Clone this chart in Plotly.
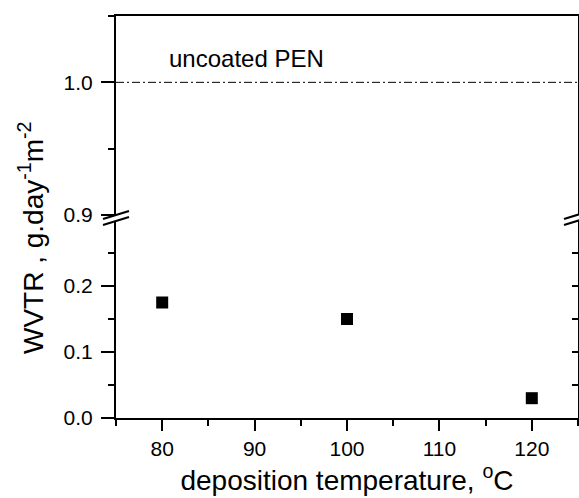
import plotly.graph_objects as go

# data
temperature = [80, 100, 120]
wvtr = [0.175, 0.15, 0.03]
uncoated_pen = 1.0
x_ticks = [80, 90, 100, 110, 120]
low_ticks = [0.0, 0.1, 0.2]
high_ticks = [0.9, 1.0]

W, H = 579, 498
ML, MR, MT, MB = 116, 1, 16, 80
PW, PH = W - ML - MR, H - MT - MB

def py(pix):  # pixel y (from top) -> paper y
    return (H - MB - pix) / PH

def px(pix):  # pixel x -> paper x
    return (pix - ML) / PW

low_dom = [0, py(220)]
high_dom = [py(215), 1]

font = "Liberation Sans, Arial, sans-serif"
black = "#000000"

fig = go.Figure()
fig.add_trace(go.Scatter(x=temperature, y=wvtr, mode="markers",
                         marker=dict(symbol="square", size=12, color=black),
                         xaxis="x", yaxis="y", showlegend=False))

axis_common = dict(showgrid=False, zeroline=False, linecolor=black, linewidth=2,
                   tickcolor=black, tickwidth=2, showline=True,
                   tickfont=dict(family=font, size=21, color=black))

fig.update_layout(
    width=W, height=H,
    margin=dict(l=ML, r=MR, t=MT, b=MB),
    paper_bgcolor="white", plot_bgcolor="white",
    showlegend=False,
    xaxis=dict(range=[75, 125], tickvals=x_ticks, ticks="outside", ticklen=11,
               minor=dict(dtick=5, tick0=75, ticks="outside", ticklen=6, tickwidth=2, tickcolor=black),
               anchor="y", domain=[0, 1],
               title=dict(text="deposition temperature, <sup>o</sup>C",
                          font=dict(family=font, size=28, color=black), standoff=8),
               **axis_common),
    xaxis2=dict(range=[75, 125], anchor="y2", overlaying="x", side="top", showticklabels=False,
                ticks="", showgrid=False, zeroline=False, showline=True, linecolor=black, linewidth=2),
    yaxis=dict(range=[0, 0.3], domain=low_dom, tickvals=low_ticks, tickformat=".1f",
               ticks="outside", ticklen=13, ticklabelstandoff=4,
               minor=dict(dtick=0.05, tick0=0, ticks="outside", ticklen=6, tickwidth=2, tickcolor=black),
               anchor="x", **axis_common),
    yaxis2=dict(range=[0.9, 1.05], domain=high_dom, tickvals=high_ticks, tickformat=".1f",
                ticks="outside", ticklen=13, ticklabelstandoff=4,
                minor=dict(dtick=0.05, tick0=0.9, ticks="outside", ticklen=6, tickwidth=2, tickcolor=black),
                anchor="x", **axis_common),
    yaxis3=dict(range=[0, 0.3], domain=low_dom, overlaying="y", side="right", anchor="x",
                tickvals=low_ticks, ticks="inside", ticklen=6, tickwidth=2, tickcolor=black,
                showticklabels=False, showgrid=False, zeroline=False, showline=True,
                linecolor=black, linewidth=2,
                minor=dict(dtick=0.05, tick0=0, ticks="inside", ticklen=6, tickwidth=2, tickcolor=black)),
    yaxis4=dict(range=[0.9, 1.05], domain=high_dom, overlaying="y2", side="right", anchor="x",
                tickvals=high_ticks, ticks="inside", ticklen=6, tickwidth=2, tickcolor=black,
                showticklabels=False, showgrid=False, zeroline=False, showline=True,
                linecolor=black, linewidth=2,
                minor=dict(dtick=0.05, tick0=0.9, ticks="inside", ticklen=6, tickwidth=2, tickcolor=black)),
)

# dummy traces so the overlay axes render
fig.add_trace(go.Scatter(x=[None], y=[None], xaxis="x", yaxis="y3", showlegend=False))
fig.add_trace(go.Scatter(x=[None], y=[None], xaxis="x2", yaxis="y2", showlegend=False))
fig.add_trace(go.Scatter(x=[None], y=[None], xaxis="x", yaxis="y4", showlegend=False))

# uncoated PEN reference line
fig.add_shape(type="line", xref="paper", x0=0, x1=1, yref="y2", y0=uncoated_pen, y1=uncoated_pen,
              line=dict(color=black, width=1, dash="8px,3px,2px,3px"))
fig.add_annotation(text="uncoated PEN", xref="x", yref="y2", x=80.5, y=1.018,
                   xanchor="left", yanchor="middle", showarrow=False,
                   font=dict(family=font, size=24, color=black))

# y title
fig.add_annotation(text="WVTR , g.day<sup>-1</sup>m<sup>-2</sup>", xref="paper", yref="paper",
                   x=px(31), y=py(238), textangle=-90, showarrow=False,
                   xanchor="center", yanchor="middle",
                   font=dict(family=font, size=28, color=black))

# axis break marks
for cx in (116, 577):
    fig.add_shape(type="path", xref="paper", yref="paper",
                  path=f"M {px(cx-13)},{py(219)} L {px(cx+13)},{py(211)} L {px(cx+13)},{py(217)} L {px(cx-13)},{py(225)} Z",
                  fillcolor="white", line=dict(width=0))
    for off in (0, 6):
        fig.add_shape(type="line", xref="paper", yref="paper",
                      x0=px(cx-13), y0=py(219+off), x1=px(cx+13), y1=py(211+off),
                      line=dict(color=black, width=2))

fig.write_html("out.html")
